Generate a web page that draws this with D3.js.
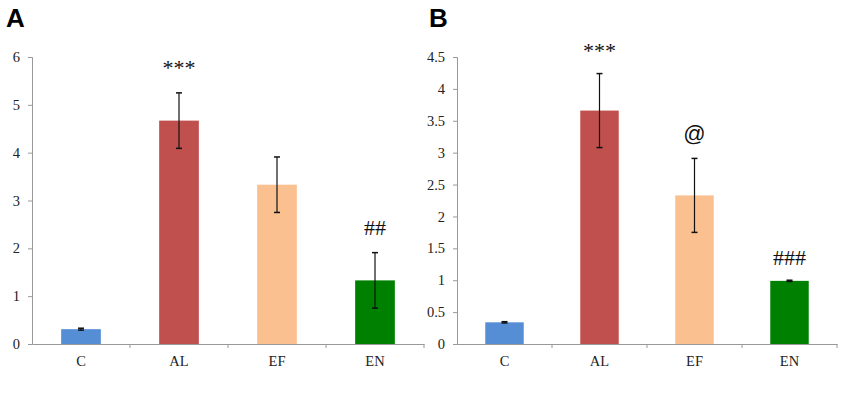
<!DOCTYPE html>
<html>
<head>
<meta charset="utf-8">
<script src="https://cdn.jsdelivr.net/npm/d3@7"></script>
<style>
  body { margin: 0; background: #fff; }
  svg { display: block; }
</style>
</head>
<body>
<div id="chart"></div>
<script>
const categories = ["C", "AL", "EF", "EN"];
const colors = ["#558ED5", "#C0504D", "#FAC090", "#008000"];

const valuesA = [0.31, 4.67, 3.33, 1.33];
const errorsA = [0.02, 0.58, 0.58, 0.58];
const marksA = ["", "***", "", "##"];
const ticksA = [0, 1, 2, 3, 4, 5, 6];

const valuesB = [0.34, 3.66, 2.33, 0.99];
const errorsB = [0.01, 0.58, 0.58, 0.01];
const marksB = ["", "***", "@", "###"];
const ticksB = [0, 0.5, 1, 1.5, 2, 2.5, 3, 3.5, 4, 4.5];

const svg = d3.select("#chart")
    .append("svg")
    .attr("width", 850)
    .attr("height", 394);

function drawPanel(opts) {
    const x = d3.scaleBand()
        .domain(categories)
        .range([opts.left, opts.right]);

    const y = d3.scaleLinear()
        .domain([0, opts.max])
        .range([344, 57]);

    const g = svg.append("g");

    // y axis
    const yAxis = g.append("g")
        .attr("transform", `translate(${opts.left},0)`)
        .call(d3.axisLeft(y).tickValues(opts.ticks).tickSize(4).tickPadding(8)
            .tickFormat(d => String(d)));
    yAxis.selectAll(".domain, .tick line").attr("stroke", "#999");
    yAxis.selectAll("text")
        .attr("font-family", "Liberation Serif, serif")
        .attr("font-size", 14.5)
        .attr("fill", "#222");

    // x axis
    const xAxis = g.append("g")
        .attr("transform", `translate(0,344)`)
        .call(d3.axisBottom(x).tickSize(0).tickPadding(12).tickSizeOuter(0));
    xAxis.select(".domain").attr("stroke", "#999");
    xAxis.selectAll("text")
        .attr("font-family", "Liberation Serif, serif")
        .attr("font-size", 14.5)
        .attr("fill", "#222");

    g.selectAll("line.sep")
        .data(categories)
        .join("line")
        .attr("class", "sep")
        .attr("x1", d => x(d) + x.bandwidth())
        .attr("x2", d => x(d) + x.bandwidth())
        .attr("y1", 344)
        .attr("y2", 348)
        .attr("stroke", "#999");

    const bw = x.bandwidth() * 0.405;

    g.selectAll("rect.bar")
        .data(categories)
        .join("rect")
        .attr("class", "bar")
        .attr("x", d => x(d) + (x.bandwidth() - bw) / 2)
        .attr("width", bw)
        .attr("y", (d, i) => y(opts.values[i]))
        .attr("height", (d, i) => 344 - y(opts.values[i]))
        .attr("fill", (d, i) => colors[i]);

    // error bars
    const eb = g.selectAll("g.err")
        .data(categories)
        .join("g")
        .attr("class", "err")
        .attr("transform", d => `translate(${x(d) + x.bandwidth() / 2},0)`);

    eb.append("line")
        .attr("y1", (d, i) => y(opts.values[i] + opts.errors[i]))
        .attr("y2", (d, i) => y(opts.values[i] - opts.errors[i]))
        .attr("stroke", "#111")
        .attr("stroke-width", 1.2);
    eb.append("line")
        .attr("x1", -3).attr("x2", 3)
        .attr("y1", (d, i) => y(opts.values[i] + opts.errors[i]))
        .attr("y2", (d, i) => y(opts.values[i] + opts.errors[i]))
        .attr("stroke", "#111")
        .attr("stroke-width", 1.5);
    eb.append("line")
        .attr("x1", -3).attr("x2", 3)
        .attr("y1", (d, i) => y(opts.values[i] - opts.errors[i]))
        .attr("y2", (d, i) => y(opts.values[i] - opts.errors[i]))
        .attr("stroke", "#111")
        .attr("stroke-width", 1.5);

    // significance marks
    g.selectAll("text.mark")
        .data(categories)
        .join("text")
        .attr("class", "mark")
        .attr("x", d => x(d) + x.bandwidth() / 2)
        .attr("y", (d, i) => y(opts.values[i] + opts.errors[i]) - opts.markGap[i])
        .attr("text-anchor", "middle")
        .attr("font-family", d => d === "EF" ? "Liberation Sans, sans-serif" : "Liberation Serif, serif")
        .attr("font-size", 22)
        .attr("fill", "#111")
        .text((d, i) => opts.marks[i]);

    svg.append("text")
        .attr("x", opts.labelX)
        .attr("y", 27)
        .attr("font-family", "Liberation Sans, Arial, sans-serif")
        .attr("font-weight", "bold")
        .attr("font-size", 26)
        .attr("fill", "#000")
        .text(opts.label);
}

drawPanel({
    left: 32, right: 424, max: 6, ticks: ticksA,
    values: valuesA, errors: errorsA, marks: marksA,
    markGap: [0, 18, 0, 18], label: "A", labelX: 6
});

drawPanel({
    left: 457, right: 837, max: 4.5, ticks: ticksB,
    values: valuesB, errors: errorsB, marks: marksB,
    markGap: [0, 16, 17, 15], label: "B", labelX: 429
});
</script>
</body>
</html>
